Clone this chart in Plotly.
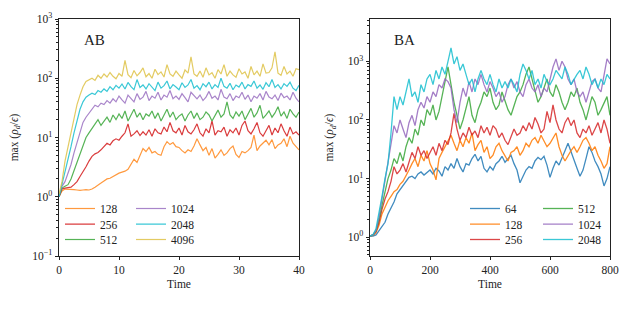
import numpy as np
import plotly.graph_objects as go

# ---------------- data: panel AB (Time 0..40, step 0.5) ----------------
ab_labels = ["128", "256", "512", "1024", "2048", "4096"]
ab_128 = [1.0, 1.25, 1.35, 1.35, 1.33, 1.32, 1.3, 1.28, 1.3, 1.32, 1.3, 1.35, 1.45, 1.6, 1.7, 1.85,
          2.0, 2.05, 2.2, 2.4, 2.5, 2.6, 2.7, 2.9, 3.6, 4.3, 3.8, 5.0, 6.5, 5.8, 6.8, 5.5, 5.8, 5.2,
          5.0, 7.0, 8.5, 7.6, 8.2, 7.0, 6.8, 6.0, 5.5, 6.2, 5.8, 7.2, 9.5, 7.5, 6.0, 6.8, 5.0, 6.5,
          4.5, 5.2, 6.2, 5.0, 5.5, 6.5, 7.2, 5.2, 4.6, 5.8, 5.5, 6.0, 6.8, 11.0, 6.0, 7.2, 8.0, 9.0,
          7.5, 9.2, 6.5, 7.5, 8.0, 9.5, 7.0, 10.5, 8.0, 7.0, 6.2]
ab_256 = [1.0, 1.35, 1.4, 1.42, 1.45, 1.6, 1.8, 2.2, 2.6, 3.2, 4.0, 4.8, 5.3, 5.6, 6.2, 7.0, 8.0,
          7.5, 8.8, 9.5, 9.0, 10.5, 12.0, 17.0, 10.5, 11.5, 13.0, 10.8, 12.5, 11.0, 13.5, 10.5,
          14.0, 12.0, 11.5, 15.0, 12.5, 18.0, 13.0, 12.0, 14.5, 11.0, 16.0, 12.5, 11.5, 13.5, 17.0,
          12.0, 10.5, 14.0, 12.0, 19.0, 11.0, 13.0, 12.5, 15.0, 10.5, 13.5, 12.0, 14.5, 11.0, 16.0,
          19.0, 13.0, 11.5, 14.0, 18.0, 12.0, 10.5, 13.0, 16.0, 11.0, 14.5, 12.0, 17.0, 13.0, 10.5,
          15.0, 11.5, 12.5, 11.0]
ab_512 = [1.0, 1.4, 1.5, 1.6, 2.0, 2.8, 3.8, 5.5, 7.5, 10.0, 12.0, 14.0, 17.0, 20.0, 16.0, 19.0,
          22.0, 18.0, 24.0, 20.0, 25.0, 21.0, 28.0, 19.0, 24.0, 30.0, 22.0, 26.0, 20.0, 25.0, 23.0,
          28.0, 21.0, 26.0, 19.0, 24.0, 30.0, 22.0, 27.0, 20.0, 23.0, 25.0, 19.0, 24.0, 28.0, 21.0,
          26.0, 20.0, 22.0, 27.0, 24.0, 19.0, 23.0, 29.0, 22.0, 25.0, 40.0, 24.0, 21.0, 27.0, 23.0,
          28.0, 20.0, 25.0, 31.0, 22.0, 26.0, 35.0, 21.0, 24.0, 28.0, 22.0, 26.0, 33.0, 23.0, 27.0,
          21.0, 30.0, 25.0, 22.0, 27.0]
ab_1024 = [1.0, 1.5, 1.8, 2.5, 3.5, 5.5, 8.0, 12.0, 18.0, 22.0, 26.0, 30.0, 35.0, 33.0, 38.0,
           36.0, 42.0, 38.0, 45.0, 40.0, 50.0, 43.0, 38.0, 52.0, 45.0, 40.0, 55.0, 44.0, 48.0, 60.0,
           42.0, 50.0, 46.0, 58.0, 43.0, 52.0, 48.0, 62.0, 45.0, 50.0, 44.0, 55.0, 47.0, 40.0, 58.0,
           50.0, 45.0, 52.0, 42.0, 48.0, 60.0, 46.0, 50.0, 43.0, 65.0, 48.0, 45.0, 55.0, 42.0, 50.0,
           47.0, 58.0, 44.0, 52.0, 40.0, 50.0, 46.0, 55.0, 43.0, 60.0, 48.0, 45.0, 52.0, 42.0, 56.0,
           47.0, 50.0, 43.0, 58.0, 46.0, 40.0]
ab_2048 = [1.0, 1.6, 2.5, 4.0, 7.0, 12.0, 20.0, 30.0, 40.0, 48.0,
           52.0, 56.0, 53.0, 62.0, 58.0, 66.0, 60.0, 72.0, 64.0, 76.0,
           68.0, 80.0, 66.0, 85.0, 72.0, 64.0, 95.0, 70.0, 77.0, 66.0,
           81.0, 72.0, 62.0, 86.0, 68.0, 75.0, 90.0, 66.0, 78.0, 71.0,
           64.0, 84.0, 70.0, 77.0, 95.0, 68.0, 75.0, 64.0, 81.0, 72.0,
           86.0, 66.0, 78.0, 70.0, 100.0, 73.0, 68.0, 82.0, 64.0, 77.0,
           71.0, 86.0, 66.0, 78.0, 73.0, 90.0, 68.0, 77.0, 65.0, 84.0,
           72.0, 95.0, 70.0, 78.0, 66.0, 81.0, 73.0, 86.0, 68.0, 62.0,
           76.0]
ab_4096 = [1.1, 1.8, 4.0, 7.0, 13.0, 22.0, 36.0, 52.0, 72.0, 88.0,
           95.0, 100.0, 92.0, 112.0, 100.0, 118.0, 105.0, 125.0, 108.0, 98.0,
           120.0, 108.0, 200.0, 115.0, 102.0, 135.0, 110.0, 125.0, 150.0, 106.0,
           120.0, 100.0, 142.0, 115.0, 128.0, 105.0, 170.0, 118.0, 108.0, 132.0,
           114.0, 100.0, 138.0, 122.0, 230.0, 118.0, 108.0, 132.0, 104.0, 150.0,
           114.0, 124.0, 100.0, 140.0, 118.0, 170.0, 108.0, 132.0, 114.0, 104.0,
           145.0, 118.0, 128.0, 100.0, 158.0, 114.0, 132.0, 108.0, 175.0, 122.0,
           125.0, 150.0, 280.0, 122.0, 112.0, 158.0, 118.0, 132.0, 108.0, 145.0,
           140.0]

# ---------------- data: panel BA (Time 0..800, step 10) ----------------
ba_labels = ["64", "128", "256", "512", "1024", "2048"]
ba_64 = [1.05, 1.05, 1.1, 1.3, 1.5, 1.8, 2.5, 3.2, 4.0, 5.5, 6.5, 7.5, 9.0, 10.5, 11.0, 10.0, 12.0,
         13.0, 11.5, 12.5, 14.0, 12.0, 15.0, 13.5, 11.0, 16.0, 14.0, 18.0, 15.0, 22.0, 16.0, 13.0,
         18.0, 17.0, 22.0, 26.0, 20.0, 24.0, 15.0, 13.0, 16.0, 14.0, 18.0, 20.0, 24.0, 19.0, 22.0,
         25.0, 18.0, 14.0, 8.5, 11.0, 14.0, 16.0, 15.0, 20.0, 23.0, 21.0, 24.0, 17.0, 10.5, 15.0,
         20.0, 17.0, 22.0, 30.0, 40.0, 28.0, 20.0, 15.0, 11.0, 14.0, 22.0, 35.0, 28.0, 20.0, 16.0,
         12.0, 7.5, 10.0, 16.0]
ba_128 = [1.05, 1.08, 1.2, 1.6, 2.5, 3.2, 4.2, 5.0, 6.0, 6.5, 8.0, 9.0, 11.0, 14.0, 18.0, 22.0,
          16.0, 25.0, 20.0, 30.0, 18.0, 14.0, 9.5, 22.0, 28.0, 35.0, 45.0, 55.0, 40.0, 30.0, 45.0,
          35.0, 50.0, 40.0, 60.0, 30.0, 38.0, 45.0, 28.0, 35.0, 22.0, 25.0, 35.0, 40.0, 30.0, 25.0,
          20.0, 28.0, 30.0, 35.0, 25.0, 30.0, 40.0, 35.0, 45.0, 50.0, 40.0, 55.0, 45.0, 35.0, 40.0,
          50.0, 60.0, 35.0, 25.0, 20.0, 25.0, 30.0, 35.0, 28.0, 35.0, 45.0, 50.0, 40.0, 30.0, 35.0,
          25.0, 20.0, 15.0, 18.0, 35.0]
ba_256 = [1.05, 1.1, 1.25, 1.8, 3.0, 4.5, 6.0, 9.0, 16.0, 12.0, 14.0, 18.0, 13.0, 20.0, 28.0, 22.0,
          35.0, 25.0, 30.0, 22.0, 28.0, 35.0, 25.0, 40.0, 30.0, 45.0, 38.0, 60.0, 130.0, 70.0, 45.0,
          60.0, 50.0, 75.0, 55.0, 65.0, 50.0, 80.0, 60.0, 75.0, 55.0, 80.0, 70.0, 50.0, 60.0, 45.0,
          38.0, 50.0, 70.0, 55.0, 60.0, 80.0, 65.0, 90.0, 70.0, 110.0, 85.0, 60.0, 70.0, 140.0, 90.0,
          180.0, 100.0, 70.0, 60.0, 90.0, 110.0, 80.0, 100.0, 60.0, 50.0, 70.0, 60.0, 80.0, 55.0,
          70.0, 90.0, 60.0, 100.0, 70.0, 40.0]
ba_512 = [1.05, 1.1, 1.3, 2.0, 3.5, 6.0, 10.0, 14.0, 22.0, 18.0, 28.0, 20.0, 35.0, 50.0, 40.0, 70.0,
          55.0, 100.0, 80.0, 150.0, 120.0, 180.0, 100.0, 140.0, 250.0, 400.0, 800.0, 400.0, 200.0,
          120.0, 70.0, 100.0, 150.0, 250.0, 120.0, 90.0, 150.0, 200.0, 300.0, 250.0, 350.0, 200.0,
          150.0, 180.0, 300.0, 220.0, 150.0, 120.0, 180.0, 250.0, 300.0, 400.0, 600.0, 800.0, 500.0,
          300.0, 200.0, 250.0, 350.0, 500.0, 300.0, 250.0, 400.0, 300.0, 200.0, 150.0, 200.0, 300.0,
          250.0, 350.0, 200.0, 150.0, 100.0, 150.0, 250.0, 200.0, 120.0, 150.0, 200.0, 250.0, 120.0]
ba_1024 = [1.05, 1.1, 1.3, 2.2, 4.5, 9.0, 18.0, 40.0, 80.0, 60.0, 100.0, 70.0, 50.0, 90.0, 120.0,
           80.0, 150.0, 200.0, 160.0, 250.0, 200.0, 300.0, 250.0, 400.0, 350.0, 500.0, 450.0, 350.0,
           150.0, 90.0, 200.0, 350.0, 250.0, 450.0, 300.0, 500.0, 400.0, 600.0, 400.0, 300.0, 450.0,
           350.0, 250.0, 300.0, 200.0, 250.0, 400.0, 500.0, 350.0, 450.0, 300.0, 250.0, 400.0, 500.0,
           350.0, 300.0, 400.0, 250.0, 350.0, 300.0, 500.0, 800.0, 1100.0, 700.0, 1000.0, 800.0,
           500.0, 400.0, 500.0, 300.0, 250.0, 300.0, 200.0, 300.0, 450.0, 500.0, 350.0, 300.0, 600.0,
           1100.0, 900.0]
ba_2048 = [1.05, 1.1, 1.4, 2.5, 5.0, 10.0, 18.0, 60.0, 250.0, 150.0, 250.0, 180.0, 300.0, 500.0,
           250.0, 300.0, 200.0, 400.0, 300.0, 500.0, 600.0, 400.0, 700.0, 500.0, 800.0, 600.0,
           1000.0, 1700.0, 900.0, 1200.0, 700.0, 900.0, 600.0, 400.0, 500.0, 300.0, 500.0, 700.0,
           500.0, 400.0, 600.0, 400.0, 300.0, 500.0, 350.0, 450.0, 350.0, 500.0, 400.0, 300.0, 600.0,
           900.0, 700.0, 500.0, 700.0, 400.0, 500.0, 350.0, 600.0, 450.0, 400.0, 500.0, 700.0, 600.0,
           500.0, 800.0, 600.0, 400.0, 500.0, 600.0, 700.0, 500.0, 800.0, 600.0, 400.0, 500.0, 350.0,
           500.0, 400.0, 600.0, 500.0]

ab_x_ticks = [0, 10, 20, 30, 40]
ba_x_ticks = [0, 200, 400, 600, 800]

ab_series = [ab_128, ab_256, ab_512, ab_1024, ab_2048, ab_4096]
ba_series = [ba_64, ba_128, ba_256, ba_512, ba_1024, ba_2048]

# ---------------- styling ----------------
FONT = "Liberation Serif"
FS = 11.5
W, H = 630, 315
ab_colors = ["rgba(255,127,14,0.8)", "rgba(214,39,40,0.9)", "rgba(44,160,44,0.8)",
             "rgba(148,103,189,0.8)", "rgba(23,190,207,0.85)", "rgba(222,194,70,0.85)"]
ba_colors = ["rgba(31,119,180,0.85)", "rgba(255,127,14,0.9)", "rgba(214,39,40,0.85)",
             "rgba(44,160,44,0.8)", "rgba(148,103,189,0.85)", "rgba(23,190,207,0.85)"]

# one single-entry legend per legend slot (column-major, 2 columns x 3 rows per panel)
row_centers = [209, 224.7, 240]
ab_text_cols = [101, 172]
ba_text_cols = [506, 579]
TEXT_DX = 41   # legend left edge -> text start
TOP_DY = 15    # legend top -> first row center

fig = go.Figure()
legend_layout = {}
leg_common = dict(orientation="v", bgcolor="rgba(0,0,0,0)", borderwidth=0,
                  font=dict(family=FONT, size=FS, color="#222"),
                  xanchor="left", yanchor="top", itemwidth=30)

idx = 0
for panel, (series, labels, colors, cols, xa, ya, xmax, width) in enumerate([
        (ab_series, ab_labels, ab_colors, ab_text_cols, "x", "y", 40, 1.2),
        (ba_series, ba_labels, ba_colors, ba_text_cols, "x2", "y2", 800, 1.3)]):
    for k, (vals, lab, col) in enumerate(zip(series, labels, colors)):
        idx += 1
        lname = "legend" if idx == 1 else "legend%d" % idx
        c, r = divmod(k, 3)
        legend_layout[lname] = dict(x=(cols[c] - TEXT_DX) / W,
                                    y=1 - (row_centers[r] - TOP_DY) / H, **leg_common)
        x = np.linspace(0, xmax, len(vals))
        fig.add_trace(go.Scatter(x=x, y=vals, mode="lines", name=lab, legend=lname,
                                 line=dict(color=col, width=width), xaxis=xa, yaxis=ya))


def sup(e):
    return "10<sup>%s</sup>" % ("\u2212" + str(-e) if e < 0 else str(e))


def minor_vals(lo, hi):
    out = []
    for d in range(lo, hi):
        for m in range(2, 10):
            out.append(m * 10.0 ** d)
    return out


axis_common = dict(showline=True, linecolor="#222", linewidth=0.8, mirror=True,
                   ticks="outside", ticklen=3.5, tickwidth=0.8, tickcolor="#222",
                   showgrid=False, zeroline=False, automargin=False,
                   tickfont=dict(family=FONT, size=FS, color="#222"))

ab_y_ticks = [-1, 0, 1, 2, 3]
ba_y_ticks = [0, 1, 2, 3]

ytitle = "max (<i>ρ<sub>d</sub></i>/<i>ϵ</i>)"

fig.update_layout(
    width=W, height=H,
    margin=dict(l=0, r=0, t=0, b=0),
    paper_bgcolor="white", plot_bgcolor="white",
    font=dict(family=FONT, size=FS, color="#222"),
    xaxis=dict(domain=[59 / W, 299 / W], range=[0, 40], tickvals=ab_x_ticks,
               title=dict(text="Time", font=dict(family=FONT, size=FS), standoff=4),
               anchor="y", **axis_common),
    yaxis=dict(domain=[1 - 256 / H, 1 - 19 / H], type="log", range=[-1, 3],
               tickvals=[10.0 ** e for e in ab_y_ticks], ticktext=[sup(e) for e in ab_y_ticks],
               minor=dict(tickvals=minor_vals(-1, 3), ticks="outside", ticklen=2,
                          tickwidth=0.6, tickcolor="#222"),
               title=dict(text=ytitle, font=dict(family=FONT, size=FS), standoff=11),
               anchor="x", **axis_common),
    xaxis2=dict(domain=[370 / W, 610 / W], range=[0, 800], tickvals=ba_x_ticks,
                title=dict(text="Time", font=dict(family=FONT, size=FS), standoff=4),
                anchor="y2", **axis_common),
    yaxis2=dict(domain=[1 - 256 / H, 1 - 19 / H], type="log", range=[-0.319, 3.721],
                tickvals=[10.0 ** e for e in ba_y_ticks], ticktext=[sup(e) for e in ba_y_ticks],
                minor=dict(tickvals=minor_vals(-1, 4), ticks="outside", ticklen=2,
                           tickwidth=0.6, tickcolor="#222"),
                title=dict(text=ytitle, font=dict(family=FONT, size=FS), standoff=11),
                anchor="x2", **axis_common),
    showlegend=True,
    **legend_layout,
)

fig.add_annotation(text="AB", x=0.095, y=0.911, xref="x domain", yref="y domain",
                   xanchor="left", yanchor="middle", showarrow=False,
                   font=dict(family=FONT, size=15, color="#222"))
fig.add_annotation(text="BA", x=0.09, y=0.911, xref="x2 domain", yref="y2 domain",
                   xanchor="left", yanchor="middle", showarrow=False,
                   font=dict(family=FONT, size=15, color="#222"))

fig.write_html("out.html", config={"displayModeBar": False},
               post_script="document.body.style.margin='0';")
